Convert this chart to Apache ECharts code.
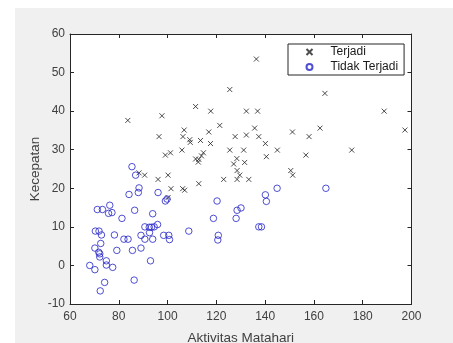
<!DOCTYPE html>
<html>
<head>
<meta charset="utf-8">
<script src="https://cdn.jsdelivr.net/npm/echarts@6/dist/echarts.min.js"></script>
<style>
  html, body { margin: 0; padding: 0; background: #fff; }
  #chart { width: 453px; height: 343px; }
</style>
</head>
<body>
<div id="chart"></div>
<script>
// data: [aktivitas matahari, kecepatan]
const terjadi = [
  [83.7, 37.6], [97.7, 38.8], [96.5, 33.4], [106.8, 35.1], [106.3, 33.4],
  [105.9, 29.9], [99.1, 28.6], [101.2, 29.2], [100.2, 23.4], [96.1, 22.3],
  [88.3, 24.0], [90.6, 23.4], [101.4, 19.9], [106.2, 19.9], [107.0, 19.5],
  [100.2, 17.6], [109.1, 32.6], [109.3, 31.9], [111.5, 41.2], [113.5, 32.4],
  [116.9, 34.6], [117.6, 31.6], [117.7, 40.0], [121.4, 36.3], [114.7, 29.2],
  [113.9, 28.4], [111.5, 27.6], [112.8, 27.5], [112.6, 26.8], [112.8, 21.2],
  [123.0, 22.3], [125.5, 45.6], [125.5, 29.9], [127.7, 33.4], [127.1, 26.3],
  [128.4, 27.7], [128.5, 24.6], [128.5, 22.3], [129.6, 23.4], [131.2, 29.9],
  [131.6, 26.7], [132.3, 33.8], [132.3, 40.0], [133.3, 22.3], [136.4, 53.5],
  [135.7, 35.6], [136.9, 40.0], [137.4, 33.4], [140.1, 31.6], [140.5, 28.2],
  [145.0, 29.9], [150.5, 24.6], [151.3, 23.4], [151.2, 34.6], [156.7, 28.6],
  [158.0, 33.4], [162.5, 35.6], [164.5, 44.6], [175.5, 29.9], [188.8, 40.0],
  [197.3, 35.1]
];

const tidakTerjadi = [
  [85.4, 25.6], [86.9, 23.4], [84.2, 18.4], [88.3, 20.1], [88.0, 18.9],
  [96.1, 18.9], [99.1, 16.7], [99.8, 17.2], [76.3, 15.6], [71.2, 14.5],
  [73.3, 14.5], [75.8, 13.5], [77.2, 13.7], [81.3, 12.2], [86.5, 14.3],
  [93.9, 13.4], [70.4, 8.9], [71.9, 8.9], [72.9, 7.9], [78.2, 7.9],
  [72.6, 5.7], [70.2, 4.5], [71.8, 3.4], [72.2, 3.0], [72.2, 2.2],
  [68.1, 0.0], [70.2, -1.1], [74.9, 1.2], [74.9, 0.1], [77.5, -0.5],
  [79.2, 3.9], [74.2, -4.4], [72.4, -6.6], [82.1, 6.8], [83.8, 6.8],
  [85.6, 3.9], [86.3, -3.8], [89.1, 7.8], [90.7, 10.0], [90.7, 6.8],
  [89.1, 4.5], [92.5, 9.9], [93.4, 9.9], [94.5, 10.0], [95.9, 10.6],
  [92.6, 8.5], [93.9, 6.8], [93.0, 1.2], [98.4, 7.8], [100.5, 7.8],
  [100.8, 6.7], [108.7, 8.9], [120.3, 16.7], [118.8, 12.2], [120.8, 7.8],
  [120.6, 6.6], [128.1, 12.2], [128.5, 14.3], [130.1, 14.9], [137.4, 10.0],
  [138.5, 10.0], [140.1, 18.3], [140.5, 16.6], [144.9, 20.0], [164.9, 20.0]
];

const xRange = { min: 60, max: 200, interval: 20 };
const yRange = { min: -10, max: 60, interval: 10 };

const chart = echarts.init(document.getElementById("chart"), null, { renderer: "canvas" });

const axisColor = "#262626";
const labelColor = "#404040";
const fontFamily = "Arial, 'Liberation Sans', Helvetica, sans-serif";

const baseAxis = {
  type: "value",
  axisLine: { show: true, onZero: false, lineStyle: { color: axisColor, width: 1 } },
  axisTick: { show: true, inside: true, length: 4, lineStyle: { color: axisColor } },
  splitLine: { show: false },
};

const option = {
  backgroundColor: "#fff",
  animation: false,
  graphic: [
    {
      type: "rect",
      z: -10,
      silent: true,
      shape: { x: 15, y: 8, width: 438, height: 335 },
      style: { fill: "#f0f0f0" },
    },
  ],
  grid: {
    left: 70,
    top: 34,
    width: 341.5,
    height: 270,
    outerBoundsMode: "none",
    containLabel: false,
    show: true,
    backgroundColor: "#fff",
    borderWidth: 0,
  },
  legend: {
    orient: "vertical",
    left: 288,
    top: 44,
    padding: [2, 6, 2, 16],
    itemWidth: 12,
    itemHeight: 6,
    itemGap: 3,
    backgroundColor: "#fff",
    borderColor: axisColor,
    borderWidth: 1,
    borderRadius: 0,
    textStyle: {
      color: "#1a1a1a",
      fontSize: 12,
      fontFamily: fontFamily,
      padding: [0, 0, 0, 10],
    },
    data: ["Terjadi", "Tidak Terjadi"],
  },
  xAxis: [
    Object.assign({}, baseAxis, {
      position: "bottom",
      min: xRange.min,
      max: xRange.max,
      interval: xRange.interval,
      name: "Aktivitas Matahari",
      nameLocation: "middle",
      nameGap: 27,
      nameMoveOverlap: false,
      nameTextStyle: { color: labelColor, fontSize: 13.5, fontFamily: fontFamily },
      axisLabel: { color: labelColor, fontSize: 12, fontFamily: fontFamily, margin: 7 },
    }),
    Object.assign({}, baseAxis, {
      position: "top",
      min: xRange.min,
      max: xRange.max,
      interval: xRange.interval,
      axisLabel: { show: false },
    }),
  ],
  yAxis: [
    Object.assign({}, baseAxis, {
      position: "left",
      min: yRange.min,
      max: yRange.max,
      interval: yRange.interval,
      name: "Kecepatan",
      nameLocation: "middle",
      nameGap: 28,
      nameMoveOverlap: false,
      nameTextStyle: { color: labelColor, fontSize: 13.5, fontFamily: fontFamily },
      axisLabel: { color: labelColor, fontSize: 12, fontFamily: fontFamily, margin: 5 },
    }),
    Object.assign({}, baseAxis, {
      position: "right",
      min: yRange.min,
      max: yRange.max,
      interval: yRange.interval,
      axisLabel: { show: false },
    }),
  ],
  series: [
    {
      name: "Terjadi",
      type: "scatter",
      xAxisIndex: 0,
      yAxisIndex: 0,
      data: terjadi,
      symbol: "path://M0,0L10,10M0,10L10,0",
      symbolSize: 5,
      itemStyle: { color: "none", borderColor: "#202020", borderWidth: 1 },
      emphasis: { disabled: true },
    },
    {
      name: "Tidak Terjadi",
      type: "scatter",
      xAxisIndex: 0,
      yAxisIndex: 0,
      data: tidakTerjadi,
      symbol: "circle",
      symbolSize: 6.5,
      itemStyle: { color: "none", borderColor: "#2323c8", borderWidth: 1 },
      emphasis: { disabled: true },
    },
  ],
};

chart.setOption(option);
</script>
</body>
</html>
